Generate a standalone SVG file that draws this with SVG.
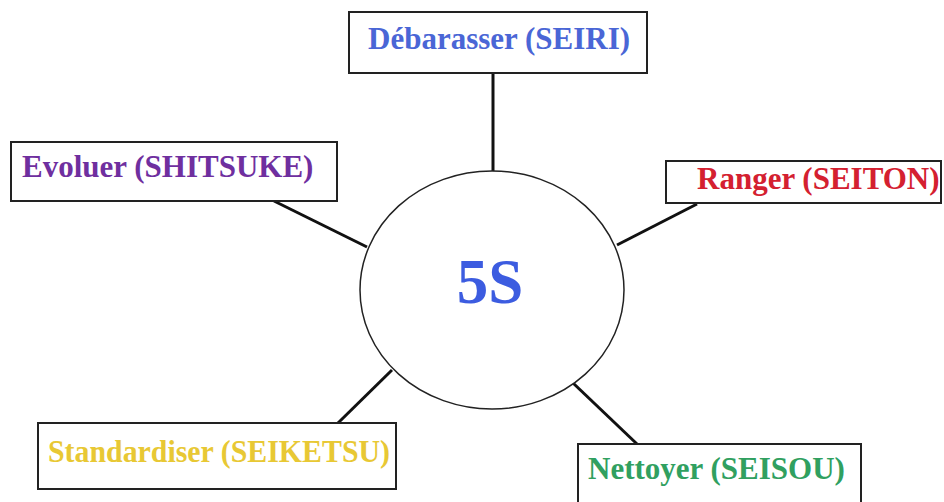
<svg xmlns="http://www.w3.org/2000/svg" width="944" height="502" viewBox="0 0 944 502">
<style>
.box{fill:#fff;stroke:#222;stroke-width:2}
.lbl{font-family:"Liberation Serif","Times New Roman",serif;font-weight:bold;font-size:31px}
.conn{stroke:#111;stroke-width:3;fill:none}
</style>
<rect width="944" height="502" fill="#fff"/>
<g id="connectors">
<line class="conn" x1="493" y1="73" x2="493" y2="171"/>
<line class="conn" x1="274" y1="201" x2="367" y2="247"/>
<line class="conn" x1="697" y1="204" x2="617" y2="245"/>
<line class="conn" x1="338" y1="423" x2="392" y2="370"/>
<line class="conn" x1="637" y1="444" x2="573" y2="383"/>
</g>
<g id="center">
<ellipse cx="492" cy="290" rx="132" ry="119" fill="#fff" stroke="#222" stroke-width="1.5"/>
<text x="490" y="303" text-anchor="middle" font-family="'Liberation Serif','Times New Roman',serif" font-weight="bold" font-size="63" fill="#3c5ce0">5S</text>
</g>
<g id="seiri">
<rect class="box" x="349" y="12" width="298" height="61"/>
<text class="lbl" x="368" y="49" fill="#4a66d6">Débarasser (SEIRI)</text>
</g>
<g id="shitsuke">
<rect class="box" x="11" y="142" width="326" height="59"/>
<text class="lbl" x="22" y="177" fill="#6f2f9f">Evoluer (SHITSUKE)</text>
</g>
<g id="seiton">
<rect class="box" x="666" y="161" width="275" height="42"/>
<text class="lbl" x="697" y="189" fill="#d42030">Ranger (SEITON)</text>
</g>
<g id="seiketsu">
<rect class="box" x="38" y="423" width="358" height="66"/>
<text class="lbl" x="48" y="462" fill="#e8c834" font-size="30" textLength="342" lengthAdjust="spacingAndGlyphs">Standardiser (SEIKETSU)</text>
</g>
<g id="seisou">
<rect class="box" x="578" y="444" width="283" height="70"/>
<text class="lbl" x="588" y="479" fill="#30a060">Nettoyer (SEISOU)</text>
</g>
</svg>
